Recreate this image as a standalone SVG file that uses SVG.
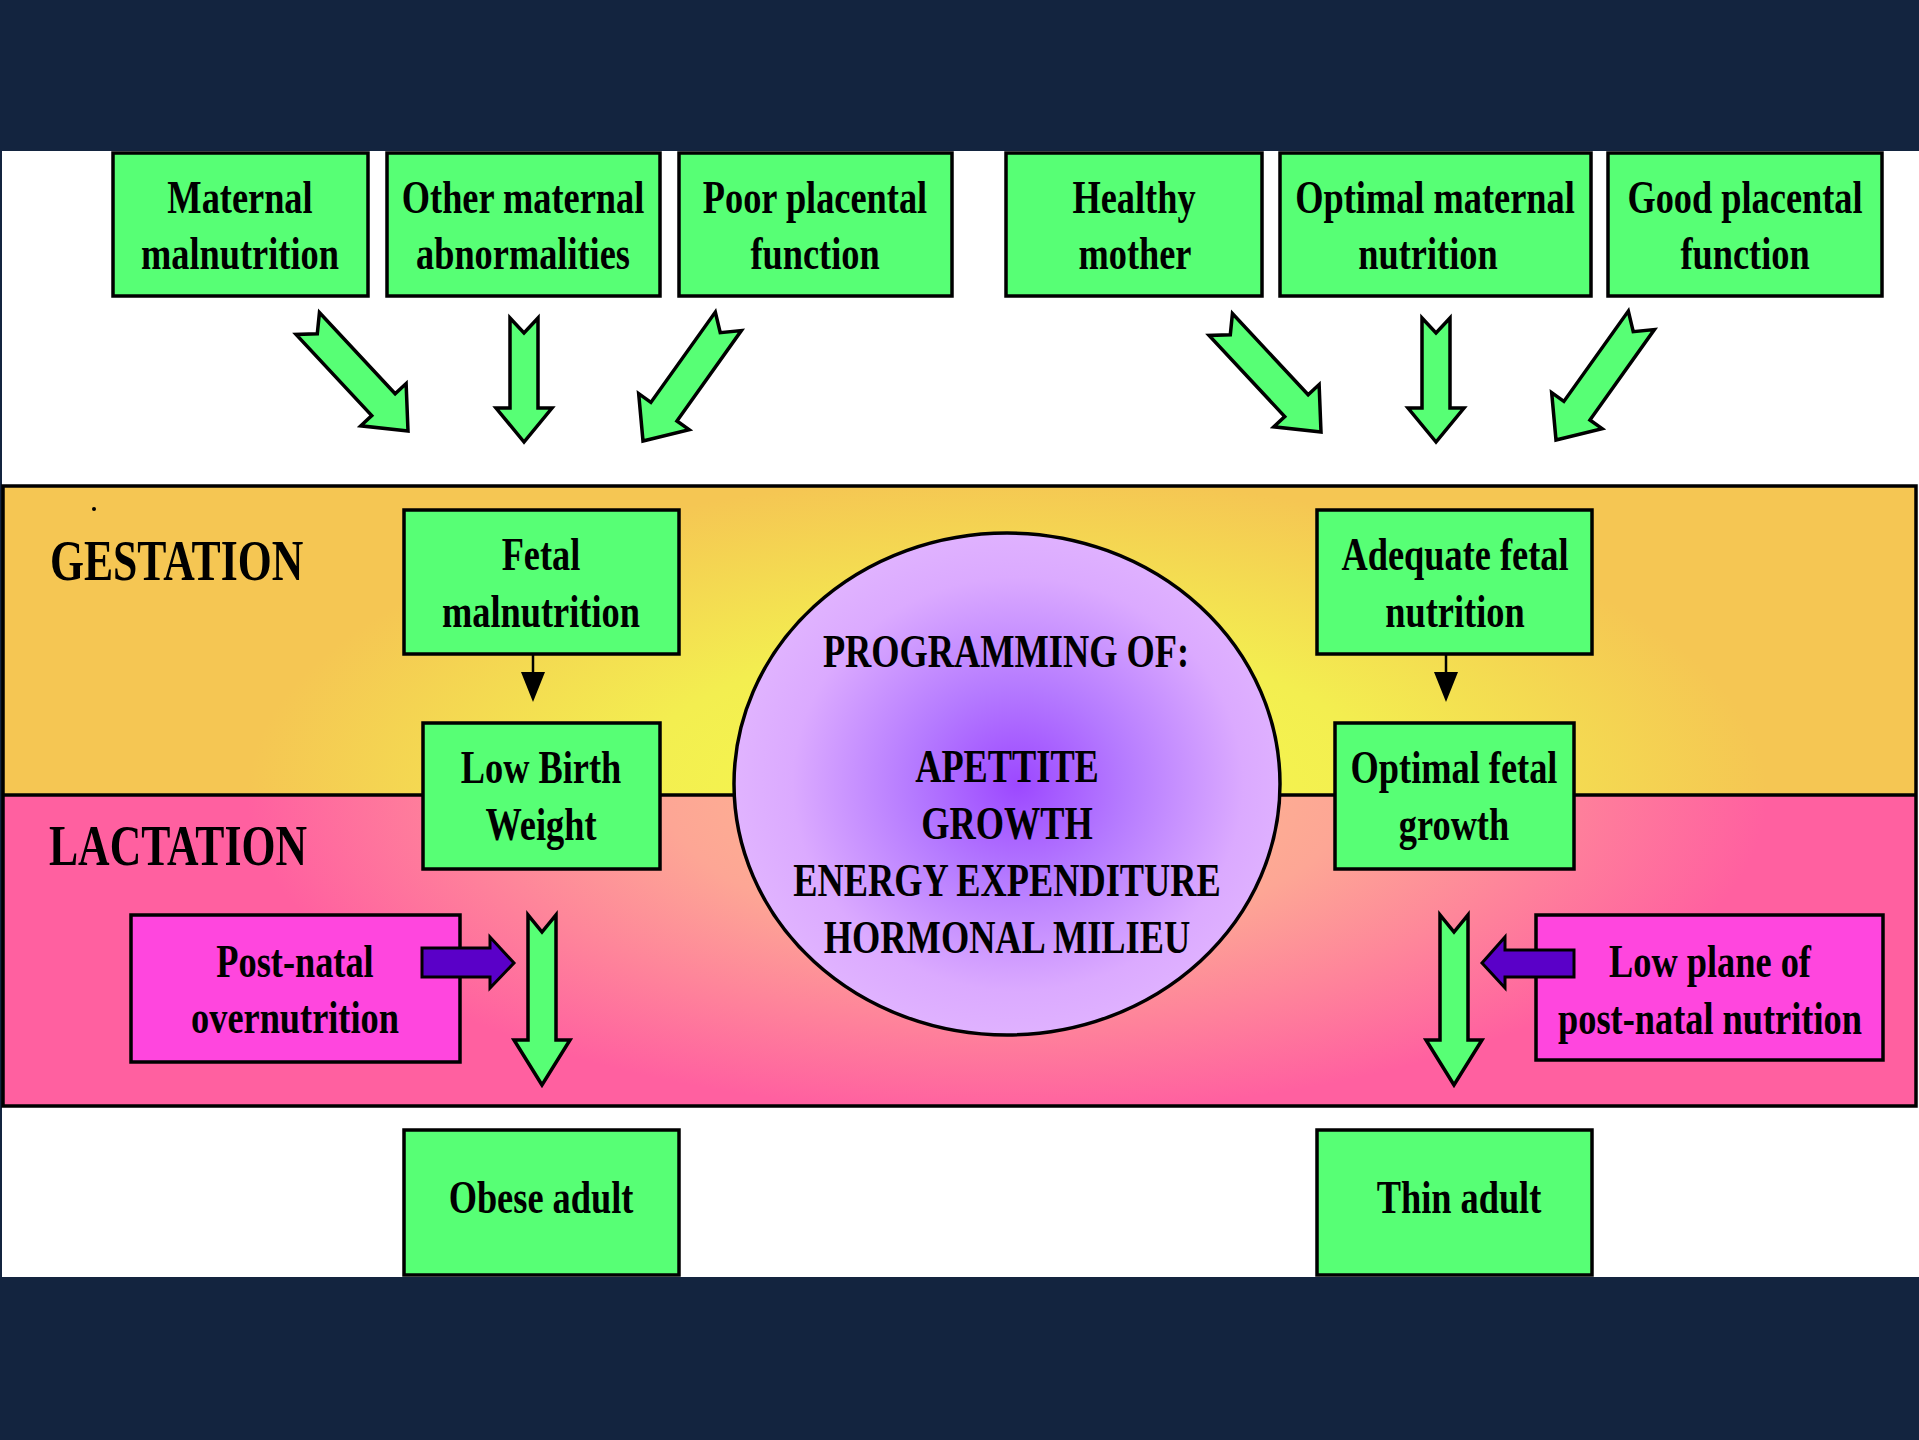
<svg xmlns="http://www.w3.org/2000/svg" width="1919" height="1440" viewBox="0 0 1919 1440">
  <defs>
    <style>
      .box { fill: #57FF75; stroke: #000; stroke-width: 3.5; }
      .mag { fill: #FF46DE; stroke: #000; stroke-width: 3.5; }
      .garr { fill: #57FF75; stroke: #000; stroke-width: 3.5; stroke-linejoin: miter; }
      .parr { fill: #5A00C8; stroke: #000; stroke-width: 3; }
      .t { font-family: "Liberation Serif", "Times New Roman", serif; font-weight: bold; font-size: 46px; fill: #000; text-anchor: middle; }
      .lab { font-family: "Liberation Serif", "Times New Roman", serif; font-weight: bold; font-size: 56px; fill: #000; text-anchor: start; }
    </style>
    <radialGradient id="gest" gradientUnits="userSpaceOnUse" cx="1007" cy="795" r="760" gradientTransform="translate(1007 795) scale(1 0.42) translate(-1007 -795)">
      <stop offset="0" stop-color="#F6FB4C"/>
      <stop offset="0.5" stop-color="#F3EE50"/>
      <stop offset="1" stop-color="#F5C653"/>
    </radialGradient>
    <radialGradient id="lact" gradientUnits="userSpaceOnUse" cx="1007" cy="795" r="760" gradientTransform="translate(1007 795) scale(1 0.42) translate(-1007 -795)">
      <stop offset="0" stop-color="#FDC08E"/>
      <stop offset="0.45" stop-color="#FDA695"/>
      <stop offset="1" stop-color="#FF60A0"/>
    </radialGradient>
    <radialGradient id="ell" cx="0.52" cy="0.5" r="0.55">
      <stop offset="0" stop-color="#9C48FF"/>
      <stop offset="0.35" stop-color="#B57AFF"/>
      <stop offset="0.75" stop-color="#DBAAFF"/>
      <stop offset="1" stop-color="#E2B6FF"/>
    </radialGradient>
    <path id="arrV" d="M0,0 L-28,-34 L-14,-34 L-14,-124 L0,-109 L14,-124 L14,-34 L28,-34 Z"/>
    <path id="arrD" d="M0,0 L-31,-36 L-16,-36 L-16,-147 L0,-133 L16,-147 L16,-36 L31,-36 Z"/>
    <path id="arrL" d="M0,0 L-28,-45 L-14,-45 L-14,-170 L0,-153 L14,-170 L14,-45 L28,-45 Z"/>
  </defs>

  <!-- background -->
  <rect x="0" y="0" width="1919" height="1440" fill="#13243F"/>
  <rect x="2" y="151" width="1917" height="1126" fill="#FFFFFF"/>

  <!-- bands -->
  <g id="bands">
    <rect x="3" y="486" width="1913" height="309" fill="url(#gest)"/>
    <rect x="3" y="795" width="1913" height="311" fill="url(#lact)"/>
    <rect x="3" y="486" width="1913" height="620" fill="none" stroke="#000" stroke-width="3.5"/>
    <line x1="3" y1="795" x2="1916" y2="795" stroke="#000" stroke-width="3.5"/>
    <text class="lab" transform="translate(50 580) scale(0.78 1)">GESTATION</text>
    <text class="lab" transform="translate(49 865) scale(0.78 1)">LACTATION</text>
    <circle cx="94" cy="509" r="2" fill="#000"/>
  </g>

  <!-- top nodes -->
  <g id="n-maternal-malnutrition">
    <rect class="box" x="113" y="153" width="255" height="143"/>
    <text class="t" transform="translate(240 213) scale(0.79 1)">Maternal</text>
    <text class="t" transform="translate(240 269) scale(0.79 1)">malnutrition</text>
  </g>
  <g id="n-other-maternal">
    <rect class="box" x="387" y="153" width="273" height="143"/>
    <text class="t" transform="translate(523 213) scale(0.79 1)">Other maternal</text>
    <text class="t" transform="translate(523 269) scale(0.79 1)">abnormalities</text>
  </g>
  <g id="n-poor-placental">
    <rect class="box" x="679" y="153" width="273" height="143"/>
    <text class="t" transform="translate(815 213) scale(0.79 1)">Poor placental</text>
    <text class="t" transform="translate(815 269) scale(0.79 1)">function</text>
  </g>
  <g id="n-healthy-mother">
    <rect class="box" x="1006" y="153" width="256" height="143"/>
    <text class="t" transform="translate(1134 213) scale(0.79 1)">Healthy</text>
    <text class="t" transform="translate(1135 269) scale(0.79 1)">mother</text>
  </g>
  <g id="n-optimal-maternal">
    <rect class="box" x="1280" y="153" width="311" height="143"/>
    <text class="t" transform="translate(1435 213) scale(0.79 1)">Optimal maternal</text>
    <text class="t" transform="translate(1428 269) scale(0.79 1)">nutrition</text>
  </g>
  <g id="n-good-placental">
    <rect class="box" x="1608" y="153" width="274" height="143"/>
    <text class="t" transform="translate(1745 213) scale(0.79 1)">Good placental</text>
    <text class="t" transform="translate(1745 269) scale(0.79 1)">function</text>
  </g>

  <!-- middle nodes -->
  <g id="n-fetal-malnutrition">
    <rect class="box" x="404" y="510" width="275" height="144"/>
    <text class="t" transform="translate(541 570) scale(0.79 1)">Fetal</text>
    <text class="t" transform="translate(541 627) scale(0.79 1)">malnutrition</text>
  </g>
  <g id="n-low-birth-weight">
    <rect class="box" x="423" y="723" width="237" height="146"/>
    <text class="t" transform="translate(541 783) scale(0.79 1)">Low Birth</text>
    <text class="t" transform="translate(541 840) scale(0.79 1)">Weight</text>
  </g>
  <g id="n-adequate-fetal">
    <rect class="box" x="1317" y="510" width="275" height="144"/>
    <text class="t" transform="translate(1455 570) scale(0.79 1)">Adequate fetal</text>
    <text class="t" transform="translate(1455 627) scale(0.79 1)">nutrition</text>
  </g>
  <g id="n-optimal-fetal-growth">
    <rect class="box" x="1335" y="723" width="239" height="146"/>
    <text class="t" transform="translate(1454 783) scale(0.79 1)">Optimal fetal</text>
    <text class="t" transform="translate(1454 840) scale(0.79 1)">growth</text>
  </g>

  <g id="n-programming">
    <ellipse cx="1007" cy="784" rx="273" ry="251" fill="url(#ell)" stroke="#000" stroke-width="3.5"/>
    <text class="t" transform="translate(1006 667) scale(0.79 1)">PROGRAMMING OF:</text>
    <text class="t" transform="translate(1007 782) scale(0.79 1)">APETTITE</text>
    <text class="t" transform="translate(1007 839) scale(0.79 1)">GROWTH</text>
    <text class="t" transform="translate(1007 896) scale(0.79 1)">ENERGY EXPENDITURE</text>
    <text class="t" transform="translate(1007 953) scale(0.79 1)">HORMONAL MILIEU</text>
  </g>

  <g id="n-postnatal-overnutrition">
    <rect class="mag" x="131" y="915" width="329" height="147"/>
    <text class="t" transform="translate(295 977) scale(0.79 1)">Post-natal</text>
    <text class="t" transform="translate(295 1033) scale(0.79 1)">overnutrition</text>
  </g>
  <g id="n-low-plane">
    <rect class="mag" x="1536" y="915" width="347" height="145"/>
    <text class="t" transform="translate(1710 977) scale(0.79 1)">Low plane of</text>
    <text class="t" transform="translate(1710 1034) scale(0.79 1)">post-natal nutrition</text>
  </g>

  <!-- bottom nodes -->
  <g id="n-obese-adult">
    <rect class="box" x="404" y="1130" width="275" height="145"/>
    <text class="t" transform="translate(541 1213) scale(0.79 1)">Obese adult</text>
  </g>
  <g id="n-thin-adult">
    <rect class="box" x="1317" y="1130" width="275" height="145"/>
    <text class="t" transform="translate(1459 1213) scale(0.79 1)">Thin adult</text>
  </g>

  <!-- connectors -->
  <g id="connectors">
    <use href="#arrD" class="garr" transform="translate(408 431) rotate(-43)"/>
    <use href="#arrV" class="garr" transform="translate(524 442)"/>
    <use href="#arrD" class="garr" transform="translate(643 441) rotate(35.5)"/>
    <use href="#arrD" class="garr" transform="translate(1321 432) rotate(-43)"/>
    <use href="#arrV" class="garr" transform="translate(1436 442)"/>
    <use href="#arrD" class="garr" transform="translate(1556 440) rotate(35.5)"/>

    <line x1="533" y1="654" x2="533" y2="676" stroke="#000" stroke-width="2.5"/>
    <polygon points="521,672 545,672 533,702" fill="#000"/>
    <line x1="1446" y1="654" x2="1446" y2="676" stroke="#000" stroke-width="2.5"/>
    <polygon points="1434,672 1458,672 1446,702" fill="#000"/>

    <use href="#arrL" class="garr" transform="translate(542 1085)"/>
    <use href="#arrL" class="garr" transform="translate(1454 1085)"/>

    <polygon class="parr" points="422,948 490,948 490,937 514,963 490,988 490,977 422,977"/>
    <polygon class="parr" points="1574,950 1505,950 1505,937 1482,963 1505,988 1505,977 1574,977"/>
  </g>
</svg>
